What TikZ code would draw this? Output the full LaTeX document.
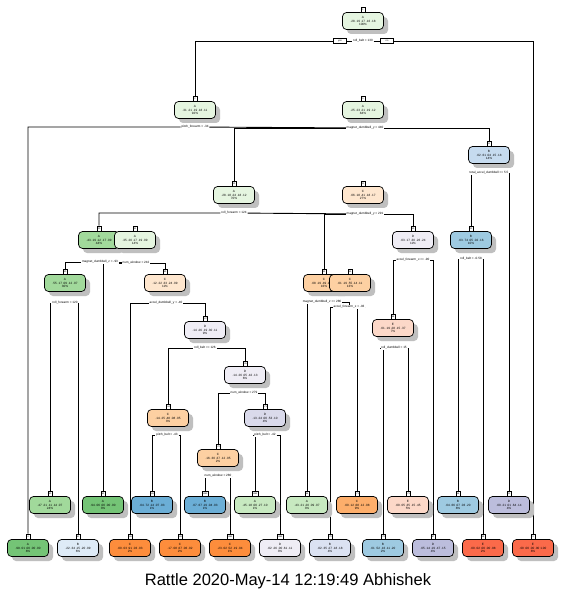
\documentclass[tikz,border=0pt]{standalone}
\usepackage{fontspec}
\setmainfont{Liberation Sans}
\setsansfont{Liberation Sans}
\usetikzlibrary{shadows,backgrounds}
\definecolor{gA}{HTML}{E5F5E0}
\definecolor{gB}{HTML}{C7E9C0}
\definecolor{gC}{HTML}{A1D99B}
\definecolor{gD}{HTML}{74C476}
\definecolor{bA}{HTML}{DEEBF7}
\definecolor{bB}{HTML}{C6DBEF}
\definecolor{bC}{HTML}{9ECAE1}
\definecolor{bD}{HTML}{6BAED6}
\definecolor{bL}{HTML}{DBE2F2}
\definecolor{oA}{HTML}{FEE6CE}
\definecolor{oB}{HTML}{FDD0A2}
\definecolor{oC}{HTML}{FDAE6B}
\definecolor{oD}{HTML}{FD8D3C}
\definecolor{pA}{HTML}{EFEDF5}
\definecolor{pB}{HTML}{DADAEB}
\definecolor{pC}{HTML}{BCBDDC}
\definecolor{rA}{HTML}{FCD8C8}
\definecolor{rC}{HTML}{FB6A4A}
\tikzset{
  tnode/.style={draw=black, line width=0.7pt, rounded corners=4pt,
    minimum width=41pt, minimum height=17pt, inner sep=0pt, align=center,
    font=\fontsize{3.1}{3.6}\selectfont,
    drop shadow={shadow xshift=4.5pt, shadow yshift=-4.5pt, fill=black!25, opacity=1}},
  nummark/.style={draw=black, fill=white, line width=0.5pt, inner sep=0.4pt,
    minimum width=4pt, minimum height=5pt, anchor=south,
    font=\fontsize{2.2}{2.4}\selectfont},
  splitlbl/.style={fill=white, inner sep=0.7pt, font=\fontsize{3.1}{3.6}\selectfont},
  conn/.style={draw=black, line width=0.9pt},
  ynbox/.style={draw=black, fill=white, line width=0.5pt, minimum width=13pt,
    minimum height=5.5pt, inner sep=0pt, font=\fontsize{2.4}{2.6}\selectfont},
  titletext/.style={font=\fontsize{16.5}{18}\selectfont}
}
\newcommand\tnd[8]{%
  \node[tnode, fill=#4] (#1) at (#2,#3) {#6\\#7\\#8};
  \node[nummark] (#1m) at (#1.north) {#5};
}
\begin{document}
\begin{tikzpicture}[x=1pt,y=-1pt]
\useasboundingbox (0,0) rectangle (567,609);
% internal nodes
\tnd{n1}{363}{21}{gA}{1}{A}{.28 .19 .17 .16 .18}{100\%}
\tnd{n2}{195}{110}{gA}{2}{A}{.31 .21 .19 .18 .11}{92\%}
\tnd{n5}{363}{110}{gA}{5}{A}{.25 .23 .21 .19 .12}{84\%}
\tnd{n11}{489}{155}{bB}{11}{B}{.02 .61 .04 .15 .18}{14\%}
\tnd{n10}{234}{195}{gA}{10}{A}{.28 .18 .24 .18 .12}{70\%}
\tnd{n21}{363}{195}{oA}{21}{C}{.06 .18 .41 .18 .17}{27\%}
\tnd{n20}{99}{240}{gC}{20}{A}{.43 .19 .12 .17 .09}{44\%}
\tnd{n41}{135}{240}{gA}{41}{A}{.35 .20 .17 .19 .09}{14\%}
\tnd{n43}{413}{240}{pA}{43}{D}{.03 .17 .30 .26 .24}{11\%}
\tnd{n22}{471}{240}{bC}{22}{B}{.03 .74 .05 .02 .16}{10\%}
\tnd{n40}{65}{283}{gC}{40}{A}{.55 .17 .09 .12 .07}{30\%}
\tnd{n83}{165}{283}{oA}{83}{C}{.12 .22 .33 .24 .09}{11\%}
\tnd{n42}{324}{283}{oB}{42}{C}{.08 .19 .49 .13 .11}{16\%}
\tnd{n85}{350}{283}{oB}{85}{C}{.01 .19 .55 .14 .11}{13\%}
\tnd{n167}{205}{330}{pA}{167}{D}{.14 .26 .19 .30 .11}{9\%}
\tnd{n86}{393}{328}{rA}{86}{E}{.01 .19 .28 .15 .37}{7\%}
\tnd{n335}{245}{375}{pA}{335}{D}{.14 .26 .05 .42 .13}{6\%}
\tnd{n334}{168}{418}{oB}{334}{C}{.14 .25 .48 .08 .05}{3\%}
\tnd{n671}{265}{418}{pB}{671}{D}{.13 .24 .00 .53 .10}{4\%}
\tnd{n670}{218}{458}{oB}{670}{C}{.16 .30 .37 .12 .05}{2\%}
% leaves
\tnd{n4}{28}{548}{gD}{4}{A}{.99 .01 .00 .00 .00}{8\%}
\tnd{n80}{50}{505}{gC}{80}{A}{.47 .21 .11 .14 .07}{24\%}
\tnd{n81}{78}{548}{bA}{81}{B}{.22 .34 .15 .20 .09}{6\%}
\tnd{n82}{103}{505}{gD}{82}{A}{.94 .06 .00 .00 .00}{3\%}
\tnd{n166}{130}{548}{oD}{166}{C}{.00 .03 .91 .03 .03}{2\%}
\tnd{n668}{152}{505}{bD}{668}{B}{.04 .72 .14 .07 .03}{1\%}
\tnd{n669}{180}{548}{oD}{669}{C}{.17 .08 .67 .06 .02}{2\%}
\tnd{n1340}{205}{505}{bD}{1340}{B}{.07 .67 .19 .04 .03}{1\%}
\tnd{n1341}{230}{548}{oD}{1341}{C}{.23 .02 .52 .19 .04}{1\%}
\tnd{n1342}{255}{505}{gB}{1342}{A}{.45 .18 .00 .27 .10}{1\%}
\tnd{n1343}{280}{548}{pA}{1343}{D}{.02 .26 .00 .61 .11}{3\%}
\tnd{n84}{307}{505}{gB}{84}{A}{.43 .21 .20 .09 .07}{3\%}
\tnd{n170}{330}{548}{bL}{170}{B}{.02 .35 .27 .18 .18}{4\%}
\tnd{n171}{357}{505}{oC}{171}{C}{.00 .12 .68 .12 .08}{9\%}
\tnd{n172}{383}{548}{bC}{172}{B}{.01 .52 .16 .11 .20}{2\%}
\tnd{n173}{408}{505}{rA}{173}{E}{.00 .05 .35 .15 .45}{5\%}
\tnd{n87}{433}{548}{pC}{87}{D}{.05 .14 .19 .47 .15}{4\%}
\tnd{n44}{458}{505}{bC}{44}{B}{.04 .66 .07 .03 .20}{8\%}
\tnd{n45}{483}{548}{rC}{45}{E}{.00 .02 .00 .00 .98}{2\%}
\tnd{n23}{509}{505}{pC}{23}{D}{.00 .21 .01 .64 .14}{4\%}
\tnd{n3}{533}{548}{rC}{3}{E}{.00 .00 .00 .00 1.00}{8\%}
% split labels
\node[splitlbl] (s1) at (363,41) {roll\_belt < 130};
\node[ynbox] (yes) at (340,41) {yes};
\node[ynbox] (no) at (387,41) {no};
\node[splitlbl] (s2) at (195,127) {pitch\_forearm < -34};
\node[splitlbl] (s5) at (365,128) {magnet\_dumbbell\_y < 440};
\node[splitlbl] (s11) at (489,173) {total\_accel\_dumbbell >= 5.5};
\node[splitlbl] (s10) at (234,213) {roll\_forearm < 124};
\node[splitlbl] (s21) at (365,214) {magnet\_dumbbell\_y < 291};
\node[splitlbl] (s20) at (100,262) {magnet\_dumbbell\_z < -93};
\node[splitlbl] (s41) at (136,263) {num\_window < 242};
\node[splitlbl] (s43) at (413,260) {accel\_forearm\_x >= -90};
\node[splitlbl] (s22) at (471,259) {roll\_belt < -0.58};
\node[splitlbl] (s40) at (65,303) {roll\_forearm < 120};
\node[splitlbl] (s83) at (166,303) {accel\_dumbbell\_y < -40};
\node[splitlbl] (s42) at (322,302) {magnet\_dumbbell\_z >= 286};
\node[splitlbl] (s85) at (349,307) {accel\_forearm\_x < -93};
\node[splitlbl] (s167) at (205,348) {roll\_belt >= 126};
\node[splitlbl] (s86) at (394,348) {roll\_dumbbell < 15};
\node[splitlbl] (s335) at (244,393) {num\_window < 279};
\node[splitlbl] (s334) at (167,435) {pitch\_belt < -43};
\node[splitlbl] (s671) at (265,435) {pitch\_belt < -42};
\node[splitlbl] (s670) at (218,476) {num\_window < 280};
% title
\node[titletext] (title) at (288,581) {Rattle 2020-May-14 12:19:49 Abhishek};
% connectors
\begin{scope}[on background layer]
\fill[white] (0,0) rectangle (567,609);
\draw[conn] (n2m.north) |- (s1) -| (n3m.north);
\draw[conn] (n4m.north) |- (s2) -- (s5);
\draw[conn] (n10m.north) |- (s5) -| (n11m.north);
\draw[conn] (n22m.north) |- (s11) -| (n23m.north);
\draw[conn] (n44m.north) |- (s22) -| (n45m.north);
\draw[conn] (n20m.north) |- (s10) -- (s21);
\draw[conn] (n42m.north) |- (s21) -| (n43m.north);
\draw[conn] (n40m.north) |- (s20) -| (s41);
\draw[conn] (n82m.north) |- (s41) -| (n83m.north);
\draw[conn] (n80m.north) |- (s40) -| (n81m.north);
\draw[conn] (n166m.north) |- (s83) -| (n167m.north);
\draw[conn] (n334m.north) |- (s167) -| (n335m.north);
\draw[conn] (n668m.north) |- (s334) -| (n669m.north);
\draw[conn] (n670m.north) |- (s335) -| (n671m.north);
\draw[conn] (n1340m.north) |- (s670) -| (n1341m.north);
\draw[conn] (n1342m.north) |- (s671) -| (n1343m.north);
\draw[conn] (n84m.north) |- (s42) -| (s85);
\draw[conn] (n170m.north) |- (s85) -| (n171m.north);
\draw[conn] (n86m.north) |- (s43) -| (n87m.north);
\draw[conn] (n172m.north) |- (s86) -| (n173m.north);
\end{scope}
\end{tikzpicture}
\end{document}
